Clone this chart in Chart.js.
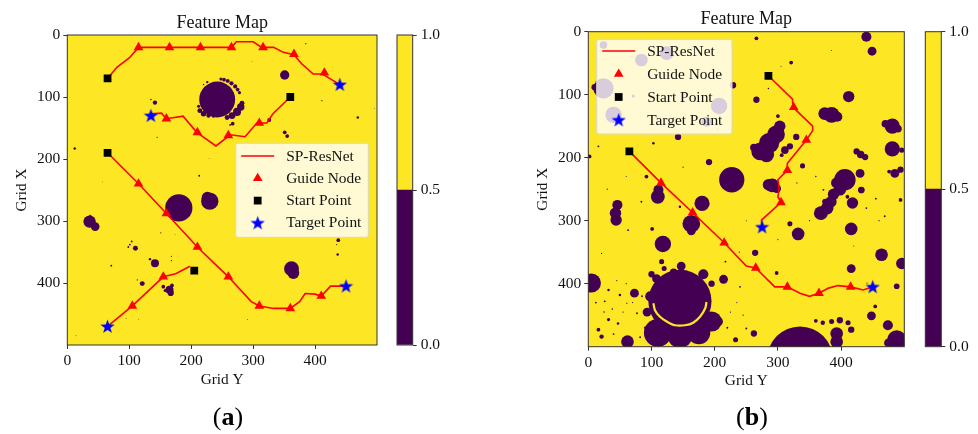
<!DOCTYPE html>
<html>
<head>
<meta charset="utf-8">
<title>Feature Map</title>
<script src="https://cdn.jsdelivr.net/npm/chart.js@4/dist/chart.umd.min.js"></script>
<style>
html,body{margin:0;padding:0;background:#fff;overflow:hidden}
canvas{position:absolute;top:0;filter:blur(.35px)}
.cap{position:absolute;top:402px;font:26px "Liberation Serif",serif;color:#000;transform:translateX(-50%)}
</style>
</head>
<body>
<canvas id="map_a" width="444" height="434" style="left:0"></canvas>
<canvas id="bar_a" width="80" height="434" style="left:385px"></canvas>
<canvas id="map_b" width="513" height="434" style="left:490px"></canvas>
<canvas id="bar_b" width="63" height="434" style="left:915px"></canvas>
<span class="cap" style="left:228px">(<b>a</b>)</span>
<span class="cap" style="left:752px">(<b>b</b>)</span>
<script>
"use strict";
var tickValues = [0, 100, 200, 300, 400];
var legendLabels = ["SP-ResNet", "Guide Node", "Start Point", "Target Point"];
var colorbarLow = [0.5];
var colorbarHigh = [0.5];

// panel (a), all [gridY, gridX]
var startsA = [[65, 70], [360, 100], [65, 190], [205, 380]];
var targetsA = [[440, 80], [135, 130], [450, 405], [65, 470]];
var guidesA = [[115, 20], [165, 20], [215, 20], [265, 20], [316, 20], [366, 31], [415, 61],
    [310, 142], [260, 162], [210, 157], [160, 135],
    [115, 240], [160, 288], [210, 342], [260, 390], [310, 437], [360, 441], [410, 421],
    [155, 390], [105, 437]];
var pathsA = [
    [[65, 70], [80, 52], [100, 37], [115, 20], [265, 20], [273, 11], [300, 11], [314, 20], [333, 20], [349, 28], [366, 32], [378, 46], [397, 63], [412, 63], [440, 80]],
    [[360, 100], [332, 127], [322, 142], [306, 142], [287, 164], [263, 161], [240, 179], [209, 157], [187, 131], [160, 135], [152, 126], [135, 127]],
    [[65, 190], [115, 240], [160, 288], [210, 342], [260, 390], [297, 430], [310, 437], [333, 441], [360, 441], [375, 430], [384, 417], [400, 418], [410, 421], [425, 405], [450, 405]],
    [[65, 470], [105, 437], [155, 390], [175, 385], [198, 373]]
];
// obstacle blobs [gridY, gridX, radius]
var obstaclesA = [
    [242, 104, 29], [248, 71, 2.5], [253, 72, 3], [259, 74, 3.2], [265, 78, 3.4], [271, 83, 3.4], [275, 88, 3], [278, 93, 2.5], [226, 76, 2], [220, 80, 1.2],
    [282, 110, 4], [280, 116, 6], [274, 124, 6.5], [266, 130, 5.5], [258, 133, 4], [212, 115, 2.5], [214, 122, 4], [220, 127, 4.5], [228, 130, 3.5], [236, 131, 2.5], [267, 143, 3], [263, 145, 1.5],
    [351, 64.5, 7.5], [141.5, 109, 3.5], [135, 104, 1.2], [326, 137, 3.2], [351, 157, 3], [355, 163, 3],
    [469, 133, 2], [411, 106, 1], [385, 14, 1], [12, 183, 2], [145, 165, 1], [213, 227, 1.5], [229, 199, .7], [57, 237, .6], [298, 43, .6],
    [180, 279, 22], [230, 268, 14], [226, 262, 9], [36, 301, 10], [45, 309, 7], [37, 292, 2],
    [101, 338, 1.5], [110, 344, 4], [104, 333, 1.5], [98.5, 342, 1.5], [141.5, 368, 6.5], [133.5, 361.5, 2], [71, 372, 1.5],
    [168, 357, 1], [168, 364, 1], [151, 319, 1], [174, 322, .6], [121, 401, 4], [113, 395, 1],
    [165, 411, 6.5], [155, 406, 3], [169, 404, 3], [167, 416, 5], [158, 412, 2.5],
    [362, 377, 12], [365, 384, 9.5], [437.5, 331, 3], [435, 338, 1], [436.5, 354, 2],
    [95, 457, .8], [115, 459, .7], [291, 459, .8], [14, 485, .8], [496, 118, .6]
];

// panel (b)
var startsB = [[285, 70], [65, 190]];
var targetsB = [[275, 310], [450, 405]];
var guidesB = [[325, 120], [345, 172], [315, 220], [305, 271],
    [115, 240], [165, 287], [215, 335], [265, 375], [315, 405], [365, 415], [415, 405]];
var pathsB = [
    [[285, 70], [323, 107], [324, 120], [355, 150], [355, 157], [345, 172], [315, 209], [315, 220], [300, 235], [302, 249], [300, 262], [305, 271], [274, 299], [275, 310]],
    [[65, 190], [115, 240], [165, 287], [215, 335], [250, 372], [265, 375], [295, 405], [315, 405], [335, 415], [350, 420], [365, 415], [380, 407], [395, 403], [415, 405], [435, 410], [450, 405]]
];
var obstaclesB = [
    // under the legend
    [24, 21, 6], [84, 45, 10], [124, 34, 11], [24, 90, 16], [10, 88, 5], [40, 132, 13], [207, 118, 13], [187, 143, 8], [142, 167, 5], [71, 102, 2.5], [229, 85, 5],
    // top and right
    [440, 8, 8], [449, 31, 7], [266, 10.5, 3], [321, 49, 3], [266, 108, 5], [412, 103, 9], [374, 130, 10], [385, 132, 12.5], [394, 135, 8],
    [481, 150, 12], [470, 146, 6], [490, 154, 6], [481, 186, 12], [496, 188, 4], [424.5, 190, 5], [431, 195, 6], [438, 199, 5], [430, 225, 7], [432, 251.6, 5], [485, 225, 7], [494, 219, 5], [476, 222, 3],
    // crescent
    [303, 150, 9], [297, 163, 14], [286, 177, 16], [272, 190, 14], [282, 195, 12], [262, 184, 6], [300, 134, 3],
    [311, 188, 6], [319, 182, 5], [306, 196, 3], [329, 167, 5], [339, 213, 4],
    // middle
    [227, 235, 20], [291, 244, 11], [285, 243, 9], [298, 249, 7], [191, 207, 5], [110, 262, 11], [111, 251, 8], [180, 272.5, 12],
    [46, 275, 8], [43, 288, 9], [44, 299, 9], [163, 305, 14], [163, 316, 7], [118, 337, 13], [101, 313, 3], [264, 351, 5],
    [332, 321, 10], [319, 305, 4], [416, 313, 10], [464, 354, 10], [416, 376, 7], [496, 368, 9], [488, 404, 4.5], [448, 451, 7], [454, 436, 3],
    [474, 466, 8], [488, 489, 15], [475, 494, 7],
    // connected clump right of the paths
    [406, 235, 17], [392, 240, 8], [398, 250, 10], [388, 258, 9], [384, 270, 9], [378, 280, 10], [368, 288, 11], [375, 270, 5], [418, 272, 9], [410, 262, 3], [432, 251, 5],
    // crater, outer mass
    [145, 428, 50], [110, 478, 22], [145, 482, 20], [175, 478, 18], [195, 460, 16], [205, 460, 8], [108, 392, 7], [100, 385, 5], [120, 376, 4], [135, 382, 6], [182, 385, 8], [195, 400, 5], [98, 420, 8], [93, 445, 7],
    [335, 520, 52], [393, 479, 10], [393, 492, 10], [360, 459, 3], [371, 462, 3.5], [385, 460, 4], [398, 458, 5], [416, 473, 5], [411, 462, 4],
    [5, 399, 15], [62, 492, 10], [73, 415, 7], [214, 393, 7], [147, 372, 7], [116, 365, 4], [262, 479, 5], [233, 489, 4],
    // specks
    [16, 473, 3], [21, 484, 3.5], [32, 457, 2.5], [26, 428, 1.5], [47, 463, 2], [32, 410, 2], [50, 418, 2], [61, 431, 1], [77, 447, 1.5], [250, 471, 1.5], [240, 405, 1.5], [298, 383, 3], [217, 365, 1.5], [21, 352, 1],
    [92, 230, 3], [103, 177, 2], [16, 182, 1.5], [2, 198, 3], [494, 267, 3], [469, 293, 1.5], [372, 251, 1.5], [63, 315, 1.5], [84, 270, 1.5], [145, 278, 2], [441, 399, 1],
    [239, 350, 1], [285, 90, 1.2], [305, 55, .8], [385, 30, .8], [330, 240, 1], [350, 300, 1], [300, 330, 1], [440, 280, 1.5], [455, 265, 1.5], [360, 230, 1.2], [460, 300, 1], [420, 340, .8], [60, 230, .8], [30, 250, 1], [150, 215, 1], [205, 155, 1], [250, 300, .8],
    [38, 440, 1.2], [55, 445, 1], [70, 430, 1], [85, 420, 1.5], [45, 395, 1], [60, 400, 1], [25, 445, 1.2], [12, 430, 1.5], [90, 470, 2], [82, 485, 1.5], [40, 480, 1.5], [225, 445, 1], [235, 430, 1], [220, 470, 1.5], [245, 450, 1]
];
var craterCoreB = [[145, 422, 37]];
var craterGapB = [[103, 431], [105.5, 442], [113, 452], [124, 460], [137, 466], [153, 466], [166, 462], [177, 452], [185, 439], [187, 429]];

var serif = '"Liberation Serif", "Times New Roman", serif';
var yellow = "#fde725", purple = "#440154", edge = "#333";

// Chart.js "star" is only strokes, so the filled star is a small canvas
function starMarker(size) {
    var c = document.createElement("canvas");
    c.width = c.height = size;
    var g = c.getContext("2d"), m = size / 2;
    g.fillStyle = "#0000ff";
    g.beginPath();
    for (var i = 0; i < 10; i++) {
        var r = i % 2 ? m * 0.4 : m, t = -Math.PI / 2 + i * Math.PI / 5;
        g.lineTo(m + r * Math.cos(t), m + 0.5 + r * Math.sin(t));
    }
    g.closePath();
    g.fill();
    return c;
}
var star = starMarker(15);

function xy(list) {
    return list.map(function(p) { return { x: p[0], y: p[1], r: p[2] } });
}

function blobRadius(c) {
    var area = c.chart.chartArea;
    return area ? c.raw.r * area.width / 500 : 0;
}

function markerSet(list, color, style, radius) {
    return { data: xy(list), pointStyle: style, pointRadius: radius, pointBackgroundColor: color, pointBorderWidth: 0, showLine: false };
}

function blobSet(list, color) {
    return { data: xy(list), pointStyle: "circle", pointRadius: blobRadius, pointBackgroundColor: color, pointBorderWidth: 0, showLine: false };
}

function mapChart(id, p) {
    var sets = [
        markerSet(p.targets, "#0000ff", star, 7),
        markerSet(p.starts, "#000", "rect", 5.5),
        markerSet(p.guides, "#ff0000", "triangle", 5.6)
    ];
    p.paths.forEach(function(path) {
        sets.push({ data: xy(path), showLine: true, borderColor: "#ff0000", borderWidth: 1.6, pointRadius: 0, tension: 0 });
    });
    if (p.core) sets.push(blobSet(p.core, purple));
    if (p.gap) sets.push({ data: xy(p.gap), showLine: true, borderColor: yellow, borderWidth: 2.2, pointRadius: 0, tension: 0.3 });
    sets.push(blobSet(p.blobs, purple));

    var panelPlugin = {
        id: "panel",
        beforeDatasetsDraw: function(chart) {
            var a = chart.chartArea, g = chart.ctx;
            g.fillStyle = yellow;
            g.fillRect(a.left, a.top, a.width, a.height);
        },
        afterDraw: function(chart) {
            var a = chart.chartArea, g = chart.ctx, b = p.legend;
            g.save();
            g.strokeStyle = edge;
            g.lineWidth = 1;
            g.strokeRect(a.left, a.top, a.width, a.height);
            // matplotlib style legend
            g.fillStyle = "rgba(255,255,255,.8)";
            g.strokeStyle = "#d8d8c8";
            g.beginPath();
            g.roundRect(b.left, b.top, b.width, b.height, 2);
            g.fill();
            g.stroke();
            var hx = b.left + 22;
            legendLabels.forEach(function(label, i) {
                var y = b.top + b.first + i * b.step;
                if (i == 0) {
                    g.strokeStyle = "#ff0000";
                    g.lineWidth = 1.6;
                    g.beginPath();
                    g.moveTo(hx - 16.5, y);
                    g.lineTo(hx + 16.5, y);
                    g.stroke();
                } else if (i == 1) {
                    g.fillStyle = "#ff0000";
                    Chart.helpers.drawPoint(g, { pointStyle: "triangle", radius: 5.6, rotation: 0, borderWidth: 0 }, hx, y);
                } else if (i == 2) {
                    g.fillStyle = "#000";
                    Chart.helpers.drawPoint(g, { pointStyle: "rect", radius: 5.5, rotation: 0, borderWidth: 0 }, hx, y);
                } else {
                    Chart.helpers.drawPoint(g, { pointStyle: star, radius: 7, rotation: 0, borderWidth: 0 }, hx, y);
                }
                g.fillStyle = "#111";
                g.font = "15.4px " + serif;
                g.textBaseline = "middle";
                g.textAlign = "left";
                g.fillText(label, b.left + 50.5, y + 0.5);
            });
            g.restore();
        }
    };

    return new Chart(document.getElementById(id), {
        type: "scatter",
        data: { datasets: sets },
        plugins: [panelPlugin],
        options: {
            responsive: false,
            animation: false,
            events: [],
            layout: { padding: p.padding },
            plugins: {
                legend: { display: false },
                tooltip: { enabled: false },
                title: {
                    display: true,
                    fullSize: false,
                    text: "Feature Map",
                    color: "#111",
                    font: { family: serif, size: 18, weight: "normal" },
                    padding: p.titlePad
                }
            },
            scales: {
                x: axis("Grid Y", false, p),
                y: axis("Grid X", true, p)
            }
        }
    });
}

function axis(title, isY, p) {
    return {
        type: "linear",
        min: 0,
        max: 500,
        reverse: isY,
        border: { display: false },
        grid: { drawOnChartArea: false, tickLength: 4, tickColor: edge, tickWidth: 1 },
        ticks: { autoSkip: false, maxRotation: 0, color: "#111", padding: 3, font: { family: serif, size: 15.5 } },
        title: { display: true, text: title, color: "#111", font: { family: serif, size: 15.3 }, padding: isY ? { top: p.yTitleGap, bottom: 0 } : { top: 0, bottom: 0 } },
        afterBuildTicks: function(s) {
            s.ticks = tickValues.map(function(v) { return { value: v } });
        },
        afterFit: function(s) {
            if (isY) s.width = p.axisWidth; else s.height = p.axisHeight;
        }
    };
}

function colorBar(id, p) {
    new Chart(document.getElementById(id), {
        type: "bar",
        data: {
            labels: [""],
            datasets: [
                { data: colorbarLow, backgroundColor: purple, barPercentage: 1, categoryPercentage: 1 },
                { data: colorbarHigh, backgroundColor: yellow, barPercentage: 1, categoryPercentage: 1 }
            ]
        },
        plugins: [{
            id: "frame",
            afterDraw: function(chart) {
                var a = chart.chartArea, g = chart.ctx;
                g.strokeStyle = edge;
                g.lineWidth = 1;
                g.strokeRect(a.left, a.top, a.width, a.height);
            }
        }],
        options: {
            responsive: false,
            animation: false,
            events: [],
            layout: { padding: p.padding },
            plugins: { legend: { display: false }, tooltip: { enabled: false } },
            scales: {
                x: { stacked: true, display: false },
                y: {
                    stacked: true,
                    position: "right",
                    min: 0,
                    max: 1,
                    border: { display: false },
                    grid: { drawOnChartArea: false, tickLength: 4, tickColor: edge },
                    ticks: {
                        stepSize: 0.5,
                        color: "#111",
                        padding: 4,
                        font: { family: serif, size: 15.5 },
                        callback: function(v) { return v.toFixed(1) }
                    },
                    afterFit: function(s) { s.width = 34 }
                }
            }
        }
    });
}

mapChart("map_a", {
    starts: startsA, targets: targetsA, guides: guidesA, paths: pathsA, blobs: obstaclesA,
    padding: { left: 0, right: 67, bottom: 45 },
    titlePad: { top: 12, bottom: 1.4 },
    axisWidth: 67.3, axisHeight: 44, yTitleGap: 13,
    legend: { left: 235.7, top: 143.3, width: 132.6, height: 94, first: 12.7, step: 22.3 }
});
colorBar("bar_a", { padding: { left: 12, right: 18.3, top: 35, bottom: 89 } });

mapChart("map_b", {
    starts: startsB, targets: targetsB, guides: guidesB, paths: pathsB, blobs: obstaclesB, core: craterCoreB, gap: craterGapB,
    padding: { left: 0, right: 98.7, bottom: 43.5 },
    titlePad: { top: 8, bottom: 2.1 },
    axisWidth: 98.3, axisHeight: 43.8, yTitleGap: 44,
    legend: { left: 106.7, top: 39.3, width: 135.3, height: 94.7, first: 11.7, step: 23 }
});
colorBar("bar_b", { padding: { left: 10.3, right: 2.7, top: 31.7, bottom: 87.3 } });
</script>
</body>
</html>
